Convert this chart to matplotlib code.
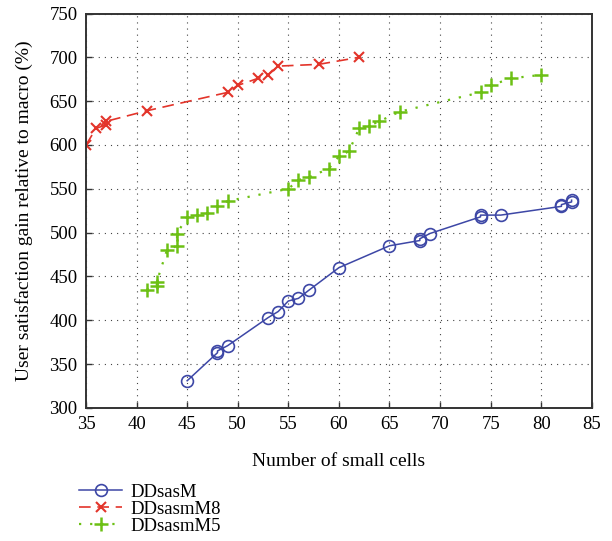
import matplotlib
matplotlib.use("Agg")
import matplotlib.pyplot as plt

# data
cells_m = [45, 48, 48, 49, 53, 54, 55, 56, 57, 60, 65, 68, 68, 69, 74, 74, 76, 82, 82, 83, 83]
gain_m = [331, 363, 365, 371, 403, 410, 422, 425, 434, 460, 485, 491, 493, 499, 518, 520, 520, 530, 532, 535, 537]

cells_m8 = [35, 36, 37, 37, 41, 49, 50, 52, 53, 54, 58, 62]
gain_m8 = [600, 619, 623, 627, 639, 660, 668, 676, 680, 690, 692, 700]

cells_m5 = [41, 42, 42, 43, 44, 44, 45, 46, 47, 48, 49, 55, 56, 57, 59, 60, 61, 62, 63, 64, 66, 74, 75, 77, 80]
gain_m5 = [435, 439, 444, 480, 485, 499, 518, 520, 522, 530, 536, 550, 560, 563, 573, 587, 593, 619, 622, 627, 638, 660, 668, 676, 680]

x_ticks = list(range(35, 90, 5))
y_ticks = list(range(300, 800, 50))

plt.rcParams['font.family'] = ['Liberation Serif', 'DejaVu Serif']

fig = plt.figure(figsize=(6.12, 5.41), dpi=100)
ax = fig.add_axes([0.1405, 0.246, 0.8265, 0.729])

ax.plot(cells_m, gain_m, color="#3d47a6", linestyle="-", linewidth=1.1,
        marker="o", markersize=8.5, markerfacecolor="none", markeredgewidth=1.2,
        label="DDsasM")
ax.plot(cells_m8, gain_m8, color="#e3342a", linestyle=(0, (7, 4)), linewidth=1.2,
        marker="x", markersize=7, markeredgewidth=1.5, label="DDsasmM8")
ax.plot(cells_m5, gain_m5, color="#6cc014", linestyle=(0, (1, 4)), linewidth=1.6,
        marker="+", markersize=10, markeredgewidth=1.8, label="DDsasmM5")

ax.set_xlim(35, 85)
ax.set_ylim(300, 750)
ax.set_xticks(x_ticks)
ax.set_yticks(y_ticks)
ax.tick_params(direction="in", labelsize=13.5, length=4, width=1, color="#333333",
               top=False, right=False, pad=6)
ax.grid(True, color="#444444", linestyle=(0, (1, 4.5)), linewidth=0.8)
for s in ax.spines.values():
    s.set_color("#333333")
    s.set_linewidth(1.4)

ax.set_xlabel("Number of small cells", fontsize=14, labelpad=14)
ax.set_ylabel("User satisfaction gain relative to macro (%)", fontsize=14, labelpad=12)

# legend sits below the axes, at the left
fig.legend(loc="center left", bbox_to_anchor=(0.114, 0.059), bbox_transform=fig.transFigure,
           frameon=False, fontsize=13.5, handlelength=2.3, handletextpad=0.45,
           labelspacing=0.0, borderpad=0)

fig.savefig("out.png", dpi=100)
